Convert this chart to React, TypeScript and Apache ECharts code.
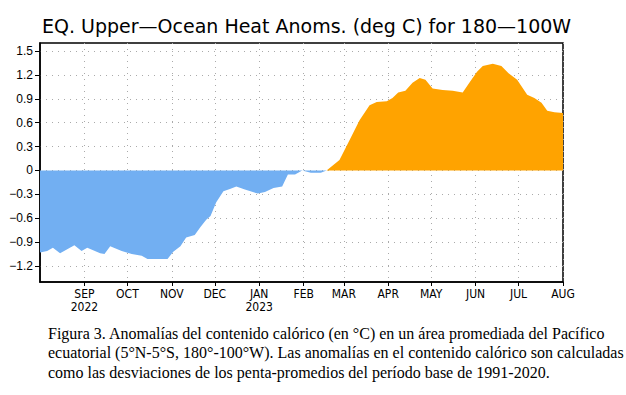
import React, { useEffect, useRef } from "react";
import * as echarts from "echarts";

const TITLE = "EQ. Upper\u2014Ocean Heat Anoms. (deg C) for 180\u2014100W";

const dates = [
  "2022-08-01", "2022-08-06", "2022-08-10", "2022-08-15", "2022-08-25", "2022-08-30",
  "2022-09-03", "2022-09-12", "2022-09-15", "2022-09-19", "2022-09-27",
  "2022-10-04", "2022-10-11", "2022-10-15", "2022-10-29",
  "2022-11-02", "2022-11-07", "2022-11-11", "2022-11-17", "2022-11-21", "2022-11-25", "2022-11-28",
  "2022-12-02", "2022-12-07", "2022-12-12", "2022-12-16", "2022-12-22", "2022-12-31",
  "2023-01-05", "2023-01-11", "2023-01-17", "2023-01-21", "2023-01-26", "2023-01-31",
  "2023-02-06", "2023-02-13", "2023-02-17", "2023-02-26",
  "2023-03-05", "2023-03-12", "2023-03-19", "2023-03-24", "2023-03-31",
  "2023-04-04", "2023-04-08", "2023-04-13", "2023-04-18", "2023-04-23", "2023-04-27",
  "2023-05-02", "2023-05-09", "2023-05-16", "2023-05-23", "2023-05-28",
  "2023-06-02", "2023-06-06", "2023-06-13", "2023-06-19", "2023-06-24", "2023-06-30",
  "2023-07-07", "2023-07-12", "2023-07-17", "2023-07-21", "2023-07-26", "2023-08-01",
];

const anomalies = [
  -1.03, -1.01, -0.97, -1.04, -0.94, -1.01,
  -0.97, -1.04, -1.05, -0.95, -1.01,
  -1.05, -1.07, -1.11, -1.11,
  -1.02, -0.95, -0.84, -0.81, -0.71, -0.62, -0.57,
  -0.4, -0.26, -0.23, -0.2, -0.24, -0.29,
  -0.27, -0.22, -0.2, -0.05, -0.05, 0.0,
  -0.03, -0.03, 0.0, 0.13,
  0.38, 0.63, 0.82, 0.86, 0.87,
  0.91, 0.98, 1.0, 1.1, 1.16, 1.14,
  1.03, 1.01, 1.0, 0.98, 1.11,
  1.24, 1.31, 1.34, 1.31, 1.22, 1.14,
  0.95, 0.91, 0.85, 0.75, 0.73, 0.72,
];

const monthTicks = [
  "2022-09-01", "2022-10-01", "2022-11-01", "2022-12-01", "2023-01-01", "2023-02-01",
  "2023-03-01", "2023-04-01", "2023-05-01", "2023-06-01", "2023-07-01", "2023-08-01",
];
const monthLabels = [
  "SEP\n2022", "OCT", "NOV", "DEC", "JAN\n2023", "FEB",
  "MAR", "APR", "MAY", "JUN", "JUL", "AUG",
];

const yTicks = [-1.2, -0.9, -0.6, -0.3, 0, 0.3, 0.6, 0.9, 1.2, 1.5];
const yTickLabels = ["\u22121.2", "\u22120.9", "\u22120.6", "\u22120.3", "0", "0.3", "0.6", "0.9", "1.2", "1.5"];

const captionLines = [
  "Figura 3. Anomalías del contenido calórico (en °C) en un área promediada del Pacífico",
  "ecuatorial (5°N-5°S, 180°-100°W). Las anomalías en el contenido calórico son calculadas",
  "como las desviaciones de los penta-promedios del período base de 1991-2020.",
];

const ORANGE = "#FFA300";
const BLUE = "#72AFF2";

export default function App() {
  const ref = useRef<HTMLDivElement>(null);

  useEffect(() => {
    if (!ref.current) return;
    const chart = echarts.init(ref.current, null, { renderer: "svg" });
    const t = (s: string) => Date.parse(s + "T00:00:00Z");
    const tickTimes = monthTicks.map(t);
    const pos = dates.map((d, i) => [t(d), Math.max(anomalies[i], 0)]);
    const neg = dates.map((d, i) => [t(d), Math.min(anomalies[i], 0)]);
    const labelFont = '"Liberation Sans Narrow", "DejaVu Sans Condensed", "Liberation Sans", sans-serif';
    const findTick = (v: number) => tickTimes.findIndex((x) => Math.abs(x - v) < 3600000);

    chart.setOption({
      animation: false,
      title: {
        text: TITLE,
        left: 37,
        top: 11,
        textStyle: {
          fontFamily: '"DejaVu Sans", sans-serif',
          fontSize: 19,
          fontWeight: "normal",
          color: "#000",
        },
      },
      grid: {
        left: 40,
        right: 63,
        top: 43,
        bottom: 113,
        show: true,
        borderColor: "#000",
        borderWidth: 1.5,
        backgroundColor: "transparent",
      },
      xAxis: {
        type: "value",
        min: t("2022-08-01"),
        max: t("2023-08-01"),
        axisLine: { show: true, onZero: false, lineStyle: { color: "#000", width: 1.5 } },
        axisTick: { show: true, length: 4, customValues: tickTimes, lineStyle: { color: "#000" } },
        axisLabel: {
          customValues: tickTimes,
          margin: 5,
          color: "#000",
          fontFamily: labelFont,
          fontSize: 12,
          lineHeight: 13,
          formatter: (v: number) => {
            const i = findTick(v);
            return i >= 0 ? monthLabels[i] : "";
          },
        },
        splitLine: {
          show: true,
          lineStyle: { color: "#aaa", type: [1, 5], width: 1 },
        },
      },
      yAxis: {
        type: "value",
        min: -1.4,
        max: 1.6,
        axisLine: { show: true, lineStyle: { color: "#000", width: 1.5 } },
        axisTick: { show: true, length: 5, inside: false, customValues: yTicks, lineStyle: { color: "#000" } },
        axisLabel: {
          customValues: yTicks,
          margin: 7,
          color: "#000",
          fontFamily: '"Liberation Sans", sans-serif',
          fontSize: 12,
          formatter: (v: number) => {
            const i = yTicks.findIndex((y) => Math.abs(y - v) < 1e-6);
            return i >= 0 ? yTickLabels[i] : "";
          },
        },
        splitLine: {
          show: true,
          lineStyle: { color: "#aaa", type: [1, 5], width: 1 },
        },
      },
      series: [
        {
          type: "line",
          data: neg,
          showSymbol: false,
          lineStyle: { width: 0, color: BLUE },
          areaStyle: { color: BLUE, opacity: 1 },
          z: 3,
        },
        {
          type: "line",
          data: pos,
          showSymbol: false,
          lineStyle: { width: 0, color: ORANGE },
          areaStyle: { color: ORANGE, opacity: 1 },
          z: 3,
        },
      ],
      graphic: captionLines.map((line, i) => ({
        type: "text",
        left: 48,
        top: 325 + i * 19.5,
        style: {
          text: line,
          fontFamily: '"Liberation Serif", serif',
          fontSize: 16,
          fill: "#000",
        },
      })),
    });
    return () => chart.dispose();
  }, []);

  return (
    <div
      ref={ref}
      style={{ position: "absolute", left: 0, top: 0, width: 626, height: 395, background: "#fff" }}
    />
  );
}
